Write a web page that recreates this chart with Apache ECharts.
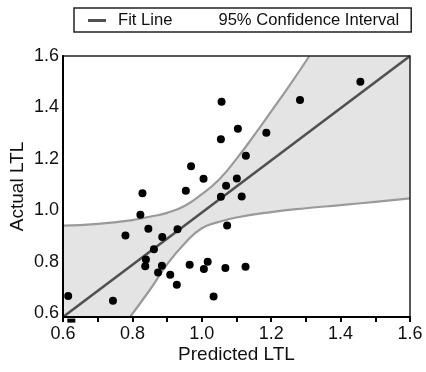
<!DOCTYPE html>
<html>
<head>
<meta charset="utf-8">
<script src="https://cdn.jsdelivr.net/npm/echarts@6/dist/echarts.min.js"></script>
<style>
  html, body { margin: 0; padding: 0; background: #fff; }
  #chart { width: 426px; height: 372px; }
</style>
</head>
<body>
<div id="chart"></div>
<script>
const predicted = [0.615, 0.744, 0.780, 0.823, 0.829, 0.846, 0.862, 0.839, 0.837, 0.885, 0.886, 0.874,
  0.909, 0.928, 0.930, 0.954, 0.969, 1.005, 1.055, 1.055, 1.057, 1.070, 1.073, 1.101,
  1.104, 1.115, 1.127, 1.186, 1.283, 1.457, 0.965, 1.006, 1.017, 1.034, 1.068, 1.126];
const actual = [0.667, 0.648, 0.902, 0.983, 1.066, 0.928, 0.848, 0.809, 0.782, 0.784, 0.896, 0.758,
  0.749, 0.710, 0.926, 1.076, 1.171, 1.123, 1.053, 1.276, 1.422, 1.095, 0.941, 1.124,
  1.317, 1.054, 1.212, 1.302, 1.429, 1.500, 0.788, 0.772, 0.800, 0.665, 0.776, 0.780];
// one point sits right under the x axis, mostly hidden
const clippedPoint = [[0.624, 0.571]];

// fit line end points
const fitX = [0.6, 1.6];
const fitY = [0.585, 1.6];

// confidence band edges
const upperX = [0.6, 0.7, 0.8, 0.85, 0.9, 0.95, 1.0, 1.05, 1.1, 1.15, 1.2, 1.25, 1.31];
const upperY = [0.94, 0.947, 0.962, 0.975, 0.99, 1.017, 1.063, 1.12, 1.2, 1.29, 1.385, 1.48, 1.6];
const lowerX = [0.793, 0.85, 0.9, 0.95, 1.0, 1.05, 1.1, 1.2, 1.3, 1.4, 1.5, 1.6];
const lowerY = [0.585, 0.69, 0.79, 0.87, 0.93, 0.955, 0.972, 0.993, 1.008, 1.02, 1.033, 1.046];

const tickValues = [0.6, 0.8, 1.0, 1.2, 1.4, 1.6];

const FONT = 'Liberation Sans, Arial, sans-serif';
const BAND = '#e4e4e4';
const pair = (xs, ys) => xs.map((x, i) => [x, ys[i]]);

const chart = echarts.init(document.getElementById('chart'));

// the band is painted in layers: grey under the upper edge, white under the lower edge,
// grey over the lower edge, white over the upper edge
function bandLayer(xs, ys, origin, color, z) {
  return {
    type: 'line',
    smooth: true,
    symbol: 'none',
    silent: true,
    z: z,
    lineStyle: { width: 0 },
    areaStyle: { origin: origin, color: color, opacity: 1 },
    data: pair(xs, ys)
  };
}

const option = {
  animation: false,
  legend: {
    left: 74,
    top: 8,
    padding: [4, 12, 3, 14],
    borderColor: '#222',
    borderWidth: 1.5,
    itemWidth: 18,
    itemHeight: 3,
    itemGap: 16,
    textStyle: { fontFamily: FONT, fontSize: 16.6, color: '#111', padding: [0, 0, 0, 7] },
    data: [
      { name: 'Fit Line', icon: 'rect', itemStyle: { color: '#505050' } },
      { name: '95% Confidence Interval', icon: 'rect', itemStyle: { color: 'rgba(0,0,0,0)' } }
    ]
  },
  grid: {
    left: 63, right: 16, top: 56, bottom: 55,
    outerBoundsMode: 'none',
    show: true,
    z: 10,
    backgroundColor: 'transparent',
    borderColor: '#222',
    borderWidth: 1.5
  },
  xAxis: {
    type: 'value',
    z: 10,
    min: 0.6, max: 1.6, interval: 0.2,
    name: 'Predicted LTL',
    nameLocation: 'middle',
    nameGap: 28,
    nameMoveOverlap: false,
    nameTextStyle: { fontFamily: FONT, fontSize: 19, color: '#111' },
    axisLine: { lineStyle: { color: '#000', width: 2 } },
    axisTick: { show: true, inside: false, length: 5, lineStyle: { color: '#000', width: 2 } },
    minorTick: { show: true, splitNumber: 2, length: 5, lineStyle: { color: '#000', width: 2 } },
    axisLabel: { fontFamily: FONT, fontSize: 18, color: '#111', margin: 8,
      formatter: v => v.toFixed(1) },
    splitLine: { show: false }
  },
  yAxis: {
    type: 'value',
    z: 10,
    min: 0.585, max: 1.6,
    name: 'Actual LTL',
    nameLocation: 'middle',
    nameGap: 36,
    nameMoveOverlap: false,
    nameTextStyle: { fontFamily: FONT, fontSize: 19, color: '#111' },
    axisLine: { show: true, lineStyle: { color: '#000', width: 2 } },
    axisTick: { show: false },
    axisLabel: { fontFamily: FONT, fontSize: 18, color: '#111', margin: 4,
      customValues: tickValues, formatter: v => v.toFixed(1) },
    splitLine: { show: false }
  },
  series: [
    bandLayer(upperX, upperY, 'start', BAND, 1),
    bandLayer(lowerX, lowerY, 'start', '#fff', 1.1),
    bandLayer(lowerX, lowerY, 'end', BAND, 1.2),
    bandLayer(upperX, upperY, 'end', '#fff', 1.3),
    {
      name: '95% Confidence Interval',
      type: 'line',
      smooth: true,
      symbol: 'none',
      z: 2,
      lineStyle: { color: '#9a9a9a', width: 2.2 },
      data: pair(upperX, upperY)
    },
    {
      type: 'line',
      smooth: true,
      symbol: 'none',
      z: 2,
      lineStyle: { color: '#9a9a9a', width: 2.2 },
      data: pair(lowerX, lowerY)
    },
    {
      name: 'Fit Line',
      type: 'line',
      symbol: 'none',
      z: 3,
      lineStyle: { color: '#505050', width: 2.6 },
      data: pair(fitX, fitY)
    },
    {
      type: 'scatter',
      symbolSize: 8,
      z: 4,
      itemStyle: { color: '#000', opacity: 1 },
      data: pair(predicted, actual)
    },
    {
      type: 'scatter',
      symbol: 'rect',
      symbolSize: [8, 4],
      clip: false,
      z: 0,
      itemStyle: { color: '#000', opacity: 1 },
      data: clippedPoint
    }
  ]
};

chart.setOption(option);
</script>
</body>
</html>
